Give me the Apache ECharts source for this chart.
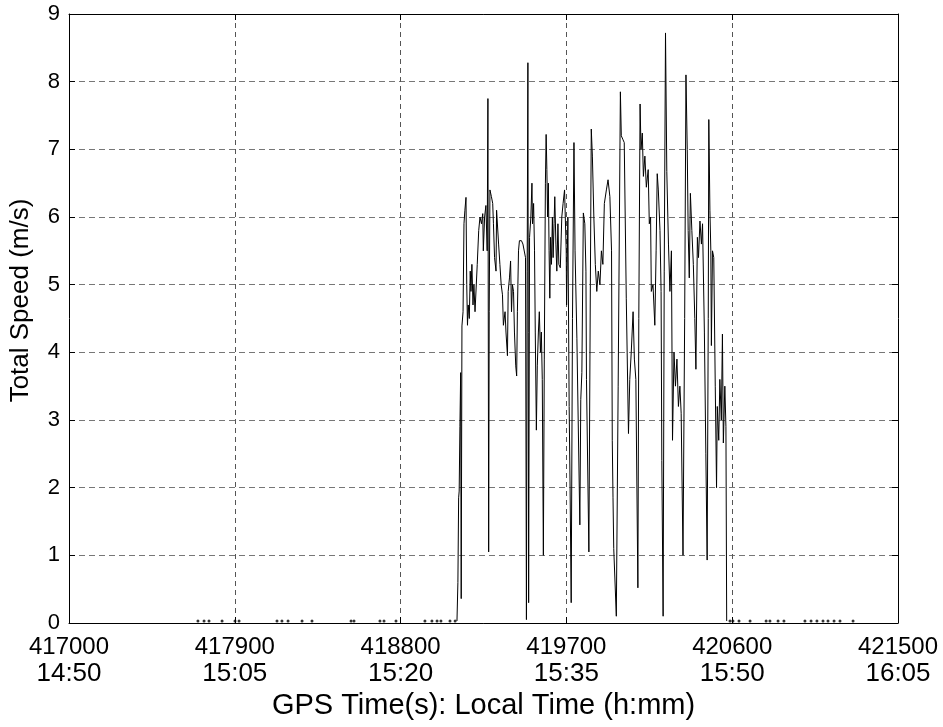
<!DOCTYPE html>
<html>
<head>
<meta charset="utf-8">
<script src="https://cdn.jsdelivr.net/npm/echarts@6/dist/echarts.min.js"></script>
<style>
  html, body { margin: 0; padding: 0; background: #fff; }
  #chart { width: 943px; height: 727px; }
</style>
</head>
<body>
<div id="chart"></div>
<script>
// x axis ticks: GPS seconds and local time
const xTicks = [417000, 417900, 418800, 419700, 420600, 421500];
const timeLabels = ['14:50', '15:05', '15:20', '15:35', '15:50', '16:05'];

// speed trace while moving (GPS time s, m/s)
const moveTime = [
  419106, 419111, 419115, 419118, 419122, 419126, 419129, 419133, 419139, 419144,
  419149, 419155, 419159, 419163, 419167, 419173, 419178, 419182, 419187, 419193,
  419198, 419204, 419210, 419216, 419224, 419231, 419239, 419246, 419249, 419256,
  419263, 419270, 419274, 419278, 419281, 419285, 419293, 419300, 419304, 419310,
  419318, 419321, 419327, 419332, 419339, 419346, 419353, 419358, 419367, 419372,
  419380, 419384, 419391, 419397, 419402, 419407, 419413, 419418, 419425, 419430,
  419434, 419440, 419445, 419456, 419464, 419472, 419478, 419483, 419487, 419491,
  419495, 419500, 419507, 419513, 419516, 419522, 419527, 419531, 419537, 419542,
  419548, 419553, 419559, 419564, 419569, 419575, 419580, 419586, 419590, 419594,
  419598, 419602, 419606, 419610, 419614, 419619, 419624, 419628, 419633, 419637,
  419643, 419648, 419654, 419659, 419667, 419675, 419682, 419690, 419694, 419699,
  419701, 419708, 419715, 419720, 419726, 419733, 419741, 419747, 419757, 419773,
  419778, 419784, 419792, 419800, 419806, 419809, 419822, 419830, 419835, 419841,
  419849, 419857, 419865, 419873, 419882, 419890, 419898, 419906, 419917, 419926,
  419936, 419945, 419949, 419953, 419957, 419971, 419981, 419993, 419998, 420006,
  420014, 420025, 420037, 420044, 420052, 420062, 420069, 420077, 420088, 420093,
  420100, 420105, 420112, 420118, 420126, 420134, 420144, 420150, 420157, 420161,
  420170, 420180, 420187, 420193, 420199, 420208, 420214, 420218, 420225, 420231,
  420238, 420245, 420254, 420262, 420270, 420276, 420284, 420292, 420300, 420308,
  420316, 420323, 420333, 420342, 420349, 420356, 420361, 420367, 420373, 420381,
  420389, 420397, 420403, 420411, 420417, 420425, 420433, 420439, 420449, 420457,
  420464, 420470, 420473, 420479, 420484, 420487, 420493, 420500, 420508, 420515,
  420519, 420527, 420533, 420541, 420547, 420552, 420560, 420566, 420570
];
const moveSpeed = [
  0.03, 0.6, 1.85, 1.95, 2.9, 3.7, 0.36, 4.39, 4.6, 5.9,
  6.1, 6.29, 5.0, 4.4, 4.7, 4.5, 5.2, 4.9, 5.3, 4.7,
  5.0, 4.6, 4.6, 5.3, 5.8, 6.0, 5.9, 6.05, 5.5, 6.0,
  6.17, 5.5, 7.75, 1.05, 4.6, 6.4, 6.3, 6.2, 5.9, 5.4,
  5.2, 6.1, 6.1, 5.6, 5.3, 5.0, 4.85, 4.4, 4.6, 4.3,
  3.95, 4.9, 5.1, 5.35, 4.6, 5.0, 4.9, 4.3, 3.8, 3.65,
  4.6, 5.5, 5.65, 5.65, 5.6, 5.6, 5.4, 0.05, 5.2, 8.28,
  0.3, 5.7, 6.0, 6.5, 5.9, 6.2, 5.5, 4.3, 2.85, 3.8,
  4.3, 4.6, 4.0, 4.3, 3.6, 1.0, 3.9, 6.5, 7.22, 6.7,
  6.0, 6.5, 5.5, 4.8, 5.7, 5.3, 6.0, 5.4, 5.9, 6.3,
  5.6, 5.2, 5.9, 5.3, 5.25, 6.0, 6.2, 6.4, 6.0, 5.5,
  4.7, 6.0, 3.2, 2.0, 0.3, 4.5, 7.1, 5.5, 4.2, 1.45,
  3.3, 3.7, 6.06, 5.9, 5.2, 3.6, 1.05, 5.0, 7.3, 6.9,
  6.0, 5.3, 4.9, 5.2, 5.0, 5.5, 5.3, 6.2, 6.4, 6.55,
  6.3, 5.5, 2.7, 1.85, 1.1, 0.1, 3.5, 7.85, 7.2, 7.15,
  7.1, 4.8, 2.8, 3.6, 4.0, 4.6, 3.9, 3.6, 0.52, 4.5,
  7.67, 7.0, 7.24, 6.6, 6.9, 6.44, 6.7, 5.9, 6.0, 4.9,
  5.0, 4.4, 5.5, 6.64, 6.4, 5.8, 4.9, 2.4, 0.1, 5.2,
  8.72, 6.67, 5.6, 4.9, 5.5, 2.7, 4.0, 3.5, 3.9, 3.2,
  3.5, 3.1, 1.0, 4.5, 8.1, 7.0, 5.8, 5.1, 6.35, 5.8,
  5.3, 4.5, 3.75, 5.7, 5.4, 5.94, 5.6, 5.9, 4.3, 2.5,
  0.93, 4.5, 7.44, 6.1, 5.5, 4.1, 5.5, 5.4, 3.5, 2.0,
  3.2, 2.7, 3.6, 3.0, 4.27, 2.66, 3.5, 2.9, 0.03
];

// isolated stationary fixes near zero speed
const restTime = [
  417700, 417733, 417760, 417831, 417901, 417923, 418129, 418156, 418189, 418265,
  418319, 418531, 418547, 418688, 418710, 418775, 418932, 418970, 418998, 419019,
  419068, 419096, 420588, 420604, 420637, 420697, 420784, 420805, 420849, 420881,
  420995, 421028, 421060, 421093, 421120, 421153, 421185, 421256
];
const restSpeed = restTime.map(() => 0.03);

const chart = echarts.init(document.getElementById('chart'));
const font = 'Liberation Sans, Arial, sans-serif';

const frameAxis = {
  axisLine: { show: true, onZero: false, lineStyle: { color: '#000', width: 1 } },
  axisTick: { show: true, inside: true, length: 6, lineStyle: { color: '#000' } },
  axisLabel: { show: false },
  splitLine: { show: false }
};

chart.setOption({
  animation: false,
  backgroundColor: '#fff',
  grid: { left: 69, right: 45, top: 14, bottom: 104, containLabel: false },
  xAxis: [
    {
      type: 'value',
      min: 417000, max: 421500, interval: 900,
      name: 'GPS Time(s): Local Time (h:mm)',
      nameLocation: 'middle',
      nameGap: 56,
      nameTextStyle: { color: '#000', fontSize: 29, fontFamily: font },
      axisLine: { onZero: false, lineStyle: { color: '#000', width: 1 } },
      axisTick: { inside: true, length: 6, lineStyle: { color: '#000' } },
      axisLabel: {
        color: '#000', fontFamily: font, margin: 12,
        formatter: function (v) {
          const i = xTicks.indexOf(v);
          return i < 0 ? '' : '{a|' + xTicks[i] + '}\n{b|' + timeLabels[i] + '}';
        },
        rich: {
          a: { fontSize: 24, lineHeight: 25, fontFamily: font, color: '#000' },
          b: { fontSize: 26, lineHeight: 27, fontFamily: font, color: '#000' }
        }
      },
      splitLine: { show: true, lineStyle: { color: '#555', type: [5, 4], width: 1 } }
    },
    Object.assign({ type: 'value', position: 'top', min: 417000, max: 421500, interval: 900 }, frameAxis)
  ],
  yAxis: [
    {
      type: 'value',
      min: 0, max: 9, interval: 1,
      name: 'Total Speed (m/s)',
      nameLocation: 'middle',
      nameGap: 35,
      nameTextStyle: { color: '#000', fontSize: 26, fontFamily: font, padding: [0, 0, 0, 36] },
      axisLine: { show: true, lineStyle: { color: '#000', width: 1 } },
      axisTick: { show: true, inside: true, length: 6, lineStyle: { color: '#000' } },
      axisLabel: { color: '#000', fontSize: 22, fontFamily: font, margin: 9 },
      splitLine: { show: true, lineStyle: { color: '#777', type: [6, 4], width: 1 } }
    },
    Object.assign({ type: 'value', position: 'right', min: 0, max: 9, interval: 1 }, frameAxis)
  ],
  series: [
    {
      type: 'line',
      data: moveTime.map((t, i) => [t, moveSpeed[i]]),
      showSymbol: false,
      lineStyle: { color: '#000', width: 1 },
      z: 3
    },
    {
      type: 'scatter',
      data: restTime.map((t, i) => [t, restSpeed[i]]),
      symbol: 'circle',
      symbolSize: 3,
      itemStyle: { color: '#000' },
      z: 3
    }
  ]
});
</script>
</body>
</html>
